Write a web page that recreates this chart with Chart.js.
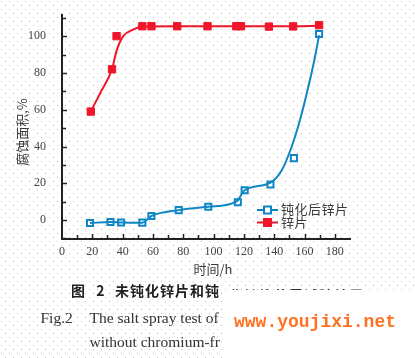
<!DOCTYPE html>
<html><head><meta charset="utf-8">
<script src="https://cdn.jsdelivr.net/npm/chart.js@4.4.1/dist/chart.umd.min.js"></script>
<style>html,body{margin:0;padding:0;background:#fff;}#wrap{width:415px;height:358px;position:relative;overflow:hidden}</style>
</head><body><div id="wrap"><canvas id="c" width="415" height="358"></canvas></div>
<script>
// ---- data ----
const seriesNames = ['钝化后锌片', '锌片'];
// passivated zinc (blue, open squares)
const passTimes = [18.5, 32, 39, 53, 59, 77, 96.5, 116, 120.5, 137.5, 153, 169.6];
const passArea  = [-1.6, -1.1, -1.3, -1.4, 2.2, 5.4, 7.2, 9.7, 16.2, 19.3, 33.7, 101.2];
// fitted curve of passivated zinc
const passCurveTimes = [18.5, 32, 39, 53, 59, 77, 96.5, 115, 120.5, 137.2, 144.9, 151.4, 156.9, 162.4, 166.8, 169.6];
const passCurveArea  = [-1.6, -1.1, -1.3, -1.4, 2.2, 5.4, 7.2, 10, 16.2, 20.2, 27.0, 39.6, 54.1, 72.1, 88.3, 100.5];
// bare zinc (red, filled squares)
const bareTimes = [19, 33, 36, 53, 59, 76, 96, 115, 118, 136.5, 152.5, 169.6];
const bareArea  = [59, 82, 100, 105.4, 105.4, 105.4, 105.4, 105.4, 105.4, 105.2, 105.3, 106];
// fitted curve of bare zinc
const bareCurveTimes = [19, 26, 33, 36, 40.4, 47, 53, 76, 115, 152.5, 169.6];
const bareCurveArea  = [59, 70.3, 82, 92, 100, 103.6, 105.3, 105.4, 105.4, 105.4, 105.6];
// ticks
const xTickLabels = [0, 20, 40, 60, 80, 100, 120, 140, 160, 180];
const yTickLabels = [0, 20, 40, 60, 80, 100];
const xTitle = '时间/h';
const yTitle = '腐蚀面积,%';
const captionCn1 = '图 2';
const captionCn2 = '未钝化锌片和钝';
const captionCn3 = '化锌片盐雾试验结果';
const captionEnLabel = 'Fig.2';
const captionEn1 = 'The salt spray test of';
const captionEn2 = 'without chromium-fr';
const watermark = 'www.youjixi.net';

const BLUE = '#0f86c4';
const RED = '#f0162a';
const TXT = '#3a3a3a';

const toPts = (xs, ys) => xs.map((x, i) => ({x: x, y: ys[i]}));

const decoPlugin = {
  id: 'deco',
  beforeDraw(chart) {
    const ctx = chart.ctx;
    ctx.save();
    ctx.fillStyle = '#ffffff';
    ctx.fillRect(0, 0, chart.width, chart.height);
    ctx.fillStyle = '#c6c6c6';
    for (let y = 1, r = 0; y < chart.height; y += 4, r++) {
      for (let x = (r % 2) * 4 + 1; x < chart.width; x += 8) {
        if (x >= 222 && y >= 290) continue;
        ctx.fillRect(x, y, 1, 1);
      }
    }
    ctx.restore();
  },
  afterDraw(chart) {
    const ctx = chart.ctx;
    const xs = chart.scales.x, ys = chart.scales.y;
    const ca = chart.chartArea;
    ctx.save();
    // inner tick marks
    ctx.strokeStyle = '#222';
    ctx.lineWidth = 1.5;
    ys.ticks.forEach(t => {
      const v = t.value;
      if (Math.abs(v % 10) > 1e-6) return;
      const py = Math.round(ys.getPixelForValue(v)) + 0.5;
      const len = (v % 20 === 0) ? 5 : 4;
      ctx.beginPath(); ctx.moveTo(ca.left, py); ctx.lineTo(ca.left + len, py); ctx.stroke();
    });
    xs.ticks.forEach(t => {
      const v = t.value;
      if (Math.abs(v % 10) > 1e-6 || v <= 0 || v > 180) return;
      const px = Math.round(xs.getPixelForValue(v)) + 0.5;
      const len = (v % 20 === 0) ? 5 : 4;
      ctx.beginPath(); ctx.moveTo(px, ca.bottom); ctx.lineTo(px, ca.bottom - len); ctx.stroke();
    });
    // axis titles
    ctx.fillStyle = TXT;
    ctx.font = '13px "Noto Sans CJK SC", sans-serif';
    ctx.textAlign = 'center';
    ctx.textBaseline = 'middle';
    ctx.fillText(xTitle, 213, 269);
    ctx.save();
    ctx.translate(22, 132);
    ctx.rotate(-Math.PI / 2);
    ctx.fillText(yTitle, 0, 0);
    ctx.restore();
    // legend
    const legend = [
      {name: seriesNames[0], color: BLUE, fill: '#fff', y: 210},
      {name: seriesNames[1], color: RED, fill: RED, y: 222.5}
    ];
    legend.forEach(it => {
      ctx.strokeStyle = it.color;
      ctx.lineWidth = 2;
      ctx.beginPath(); ctx.moveTo(257, it.y); ctx.lineTo(278, it.y); ctx.stroke();
      ctx.fillStyle = it.fill;
      ctx.fillRect(264, it.y - 3.5, 7, 7);
      ctx.strokeRect(264, it.y - 3.5, 7, 7);
      ctx.fillStyle = TXT;
      ctx.textAlign = 'left';
      ctx.textBaseline = 'middle';
      ctx.font = '13px "Noto Sans CJK SC", sans-serif';
      if ('letterSpacing' in ctx) ctx.letterSpacing = '0.5px';
      ctx.fillText(it.name, 281, it.y - 0.5);
      if ('letterSpacing' in ctx) ctx.letterSpacing = '0px';
    });
    // caption (left part)
    ctx.save();
    ctx.beginPath(); ctx.rect(0, 272, 222, 86); ctx.clip();
    ctx.fillStyle = '#222';
    ctx.textBaseline = 'alphabetic';
    ctx.textAlign = 'left';
    ctx.font = 'bold 14px "Noto Sans CJK SC", sans-serif';
    if ('letterSpacing' in ctx) ctx.letterSpacing = '4px';
    ctx.fillText(captionCn1, 71, 296);
    if ('letterSpacing' in ctx) ctx.letterSpacing = '1px';
    ctx.fillText(captionCn2, 115, 296);
    if ('letterSpacing' in ctx) ctx.letterSpacing = '0px';
    ctx.font = '15.5px "Liberation Serif", serif';
    ctx.fillStyle = '#333';
    ctx.fillText(captionEnLabel, 40.5, 323);
    ctx.fillText(captionEn1, 89.5, 323);
    ctx.fillText(captionEn2, 89.5, 346.5);
    ctx.restore();
    // caption (right part, lower half hidden)
    ctx.save();
    ctx.beginPath(); ctx.rect(226, 280, 189, 10); ctx.clip();
    ctx.fillStyle = '#333';
    ctx.font = 'bold 14px "Noto Sans CJK SC", sans-serif';
    if ('letterSpacing' in ctx) ctx.letterSpacing = '1px';
    ctx.fillText(captionCn3, 229, 296);
    if ('letterSpacing' in ctx) ctx.letterSpacing = '0px';
    ctx.restore();
    // watermark
    ctx.fillStyle = '#ff7020';
    ctx.font = 'bold 18px "Liberation Mono", monospace';
    ctx.textAlign = 'left';
    ctx.textBaseline = 'alphabetic';
    ctx.fillText(watermark, 234, 326.5);
    ctx.restore();
  }
};

const tickFont = {family: '"Liberation Serif", serif', size: 12};

new Chart(document.getElementById('c'), {
  type: 'scatter',
  data: {
    datasets: [
      {label: seriesNames[0] + ' 曲线', data: toPts(passCurveTimes, passCurveArea), showLine: true,
       borderColor: BLUE, borderWidth: 2, pointRadius: 0, cubicInterpolationMode: 'monotone', fill: false},
      {label: seriesNames[0], data: toPts(passTimes, passArea), showLine: false,
       pointStyle: 'rect', pointRadius: 4.3, borderWidth: 2, borderColor: BLUE, backgroundColor: '#ffffff'},
      {label: seriesNames[1] + ' 曲线', data: toPts(bareCurveTimes, bareCurveArea), showLine: true,
       borderColor: RED, borderWidth: 2, pointRadius: 0, cubicInterpolationMode: 'monotone', fill: false},
      {label: seriesNames[1], data: toPts(bareTimes, bareArea), showLine: false,
       pointStyle: 'rect', pointRadius: 5.2, borderWidth: 1, borderColor: RED, backgroundColor: RED}
    ]
  },
  options: {
    responsive: false,
    animation: false,
    devicePixelRatio: 1,
    layout: {padding: {top: 14, right: 65, left: 0, bottom: 0}},
    plugins: {legend: {display: false}, tooltip: {enabled: false}},
    scales: {
      x: {
        type: 'linear', min: 0, max: 190,
        afterFit: s => { s.height = 119; },
        afterBuildTicks: s => { const t = []; for (let v = 0; v <= 190; v += 10) t.push({value: v}); s.ticks = t; },
        border: {display: true, color: '#222', width: 2},
        grid: {display: false},
        ticks: {autoSkip: false, maxRotation: 0, padding: -2, color: '#444', font: tickFont,
          callback: v => xTickLabels.includes(v) ? String(v) : ''}
      },
      y: {
        type: 'linear', min: -10.3, max: 111.4,
        afterFit: s => { s.width = 62; },
        afterBuildTicks: s => { const t = []; for (let v = -10; v <= 110; v += 10) t.push({value: v}); s.ticks = t; },
        border: {display: true, color: '#222', width: 2},
        grid: {display: false},
        ticks: {autoSkip: false, padding: 8, color: '#444', font: tickFont,
          callback: v => yTickLabels.includes(v) ? String(v) : ''}
      }
    }
  },
  plugins: [decoPlugin]
});
</script></body></html>
